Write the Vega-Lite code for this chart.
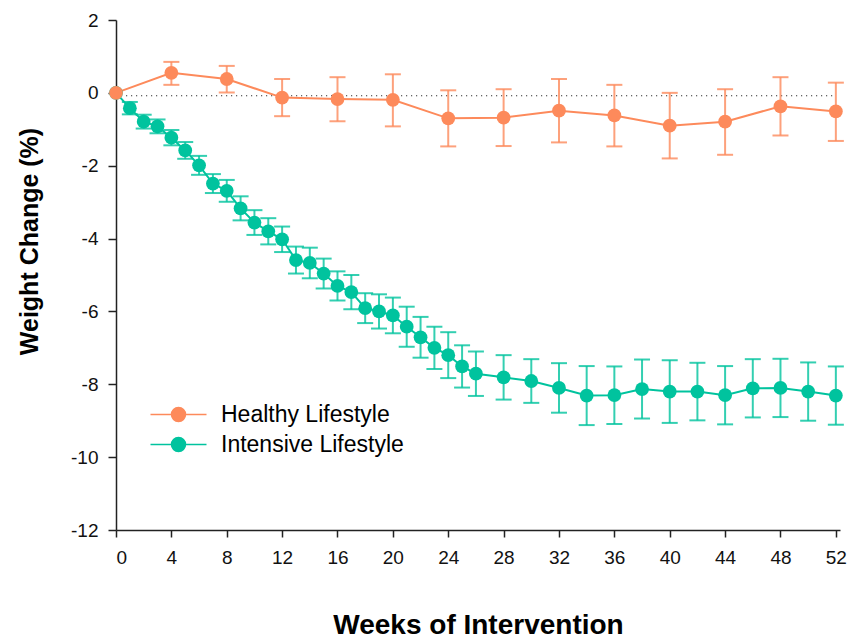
{
  "$schema": "https://vega.github.io/schema/vega-lite/v6.json",
  "width": 724,
  "height": 510,
  "autosize": "none",
  "padding": {"left": 116, "top": 20, "right": 8, "bottom": 108},
  "config": {
    "view": {"stroke": null},
    "font": "Liberation Sans",
    "axis": {
      "grid": false,
      "domainColor": "#222",
      "tickColor": "#222",
      "domainWidth": 1.5,
      "tickWidth": 1.5,
      "labelColor": "#111",
      "labelFont": "Liberation Sans",
      "labelFontSize": 19,
      "titleFont": "Liberation Sans",
      "titleFontWeight": "bold",
      "titleColor": "#000"
    }
  },
  "datasets": {
    "main": [
      {"series": "Intensive Lifestyle", "week": 0, "mean": 0, "lo": null, "hi": null},
      {"series": "Intensive Lifestyle", "week": 1, "mean": -0.42, "lo": -0.59, "hi": -0.25},
      {"series": "Intensive Lifestyle", "week": 2, "mean": -0.79, "lo": -0.98, "hi": -0.60},
      {"series": "Intensive Lifestyle", "week": 3, "mean": -0.92, "lo": -1.11, "hi": -0.73},
      {"series": "Intensive Lifestyle", "week": 4, "mean": -1.23, "lo": -1.44, "hi": -1.02},
      {"series": "Intensive Lifestyle", "week": 5, "mean": -1.58, "lo": -1.81, "hi": -1.35},
      {"series": "Intensive Lifestyle", "week": 6, "mean": -1.99, "lo": -2.25, "hi": -1.73},
      {"series": "Intensive Lifestyle", "week": 7, "mean": -2.49, "lo": -2.75, "hi": -2.23},
      {"series": "Intensive Lifestyle", "week": 8, "mean": -2.69, "lo": -2.99, "hi": -2.39},
      {"series": "Intensive Lifestyle", "week": 9, "mean": -3.17, "lo": -3.50, "hi": -2.84},
      {"series": "Intensive Lifestyle", "week": 10, "mean": -3.56, "lo": -3.90, "hi": -3.22},
      {"series": "Intensive Lifestyle", "week": 11, "mean": -3.80, "lo": -4.16, "hi": -3.44},
      {"series": "Intensive Lifestyle", "week": 12, "mean": -4.02, "lo": -4.37, "hi": -3.67},
      {"series": "Intensive Lifestyle", "week": 13, "mean": -4.59, "lo": -4.96, "hi": -4.22},
      {"series": "Intensive Lifestyle", "week": 14, "mean": -4.67, "lo": -5.09, "hi": -4.25},
      {"series": "Intensive Lifestyle", "week": 15, "mean": -4.96, "lo": -5.37, "hi": -4.55},
      {"series": "Intensive Lifestyle", "week": 16, "mean": -5.30, "lo": -5.70, "hi": -4.90},
      {"series": "Intensive Lifestyle", "week": 17, "mean": -5.47, "lo": -5.94, "hi": -5.00},
      {"series": "Intensive Lifestyle", "week": 18, "mean": -5.91, "lo": -6.32, "hi": -5.50},
      {"series": "Intensive Lifestyle", "week": 19, "mean": -6.00, "lo": -6.47, "hi": -5.53},
      {"series": "Intensive Lifestyle", "week": 20, "mean": -6.11, "lo": -6.60, "hi": -5.62},
      {"series": "Intensive Lifestyle", "week": 21, "mean": -6.42, "lo": -6.97, "hi": -5.87},
      {"series": "Intensive Lifestyle", "week": 22, "mean": -6.71, "lo": -7.27, "hi": -6.15},
      {"series": "Intensive Lifestyle", "week": 23, "mean": -7.00, "lo": -7.58, "hi": -6.42},
      {"series": "Intensive Lifestyle", "week": 24, "mean": -7.20, "lo": -7.83, "hi": -6.57},
      {"series": "Intensive Lifestyle", "week": 25, "mean": -7.51, "lo": -8.09, "hi": -6.93},
      {"series": "Intensive Lifestyle", "week": 26, "mean": -7.71, "lo": -8.32, "hi": -7.10},
      {"series": "Intensive Lifestyle", "week": 28, "mean": -7.81, "lo": -8.42, "hi": -7.20},
      {"series": "Intensive Lifestyle", "week": 30, "mean": -7.91, "lo": -8.51, "hi": -7.31},
      {"series": "Intensive Lifestyle", "week": 32, "mean": -8.10, "lo": -8.78, "hi": -7.42},
      {"series": "Intensive Lifestyle", "week": 34, "mean": -8.31, "lo": -9.12, "hi": -7.50},
      {"series": "Intensive Lifestyle", "week": 36, "mean": -8.30, "lo": -9.09, "hi": -7.51},
      {"series": "Intensive Lifestyle", "week": 38, "mean": -8.13, "lo": -8.94, "hi": -7.32},
      {"series": "Intensive Lifestyle", "week": 40, "mean": -8.20, "lo": -9.06, "hi": -7.34},
      {"series": "Intensive Lifestyle", "week": 42, "mean": -8.20, "lo": -8.99, "hi": -7.41},
      {"series": "Intensive Lifestyle", "week": 44, "mean": -8.30, "lo": -9.10, "hi": -7.50},
      {"series": "Intensive Lifestyle", "week": 46, "mean": -8.11, "lo": -8.91, "hi": -7.31},
      {"series": "Intensive Lifestyle", "week": 48, "mean": -8.10, "lo": -8.90, "hi": -7.30},
      {"series": "Intensive Lifestyle", "week": 50, "mean": -8.20, "lo": -9.00, "hi": -7.40},
      {"series": "Intensive Lifestyle", "week": 52, "mean": -8.31, "lo": -9.11, "hi": -7.51},
      {"series": "Healthy Lifestyle", "week": 0, "mean": 0, "lo": null, "hi": null},
      {"series": "Healthy Lifestyle", "week": 4, "mean": 0.55, "lo": 0.22, "hi": 0.85},
      {"series": "Healthy Lifestyle", "week": 8, "mean": 0.38, "lo": 0.01, "hi": 0.74},
      {"series": "Healthy Lifestyle", "week": 12, "mean": -0.13, "lo": -0.64, "hi": 0.38},
      {"series": "Healthy Lifestyle", "week": 16, "mean": -0.17, "lo": -0.78, "hi": 0.43},
      {"series": "Healthy Lifestyle", "week": 20, "mean": -0.19, "lo": -0.92, "hi": 0.51},
      {"series": "Healthy Lifestyle", "week": 24, "mean": -0.70, "lo": -1.47, "hi": 0.07},
      {"series": "Healthy Lifestyle", "week": 28, "mean": -0.68, "lo": -1.46, "hi": 0.10},
      {"series": "Healthy Lifestyle", "week": 32, "mean": -0.49, "lo": -1.36, "hi": 0.38},
      {"series": "Healthy Lifestyle", "week": 36, "mean": -0.62, "lo": -1.47, "hi": 0.22},
      {"series": "Healthy Lifestyle", "week": 40, "mean": -0.90, "lo": -1.80, "hi": 0.00},
      {"series": "Healthy Lifestyle", "week": 44, "mean": -0.79, "lo": -1.70, "hi": 0.10},
      {"series": "Healthy Lifestyle", "week": 48, "mean": -0.37, "lo": -1.17, "hi": 0.43},
      {"series": "Healthy Lifestyle", "week": 52, "mean": -0.51, "lo": -1.32, "hi": 0.28}
    ],
    "ref": [{"level": -0.08, "start": 0, "end": 52}]
  },
  "layer": [
    {
      "data": {"name": "ref"},
      "mark": {"type": "rule", "color": "#333", "strokeWidth": 1.2, "strokeDash": [1.2, 3.8]},
      "encoding": {
        "y": {"field": "level", "type": "quantitative", "scale": {"domain": [-12, 2], "nice": false}},
        "x": {"field": "start", "type": "quantitative", "scale": {"domain": [0, 52.3], "nice": false}},
        "x2": {"field": "end"}
      }
    },
    {
      "data": {"name": "main"},
      "transform": [{"filter": "isValid(datum.lo)"}],
      "layer": [
        {
          "mark": {"type": "rule", "strokeWidth": 2, "opacity": 0.8},
          "encoding": {
            "y": {"field": "lo", "type": "quantitative"},
            "y2": {"field": "hi"}
          }
        },
        {
          "mark": {"type": "tick", "orient": "horizontal", "size": 16, "thickness": 2, "opacity": 0.8},
          "encoding": {"y": {"field": "lo", "type": "quantitative"}}
        },
        {
          "mark": {"type": "tick", "orient": "horizontal", "size": 16, "thickness": 2, "opacity": 0.8},
          "encoding": {"y": {"field": "hi", "type": "quantitative"}}
        }
      ],
      "encoding": {
        "x": {"field": "week", "type": "quantitative"},
        "color": {"field": "series", "type": "nominal"}
      }
    },
    {
      "data": {"name": "main"},
      "layer": [
        {"mark": {"type": "line", "strokeWidth": 2}, "encoding": {}},
        {"mark": {"type": "point", "filled": true, "size": 190, "opacity": 1}, "encoding": {}}
      ],
      "encoding": {
        "x": {
          "field": "week", "type": "quantitative",
          "axis": {
            "values": [0, 4, 8, 12, 16, 20, 24, 28, 32, 36, 40, 44, 48, 52],
            "tickSize": 7, "labelPadding": 11, "labelFontSize": 19,
            "labelExpr": "datum.value < 0 ? '-' + abs(datum.value) : '' + datum.value",
            "title": "Weeks of Intervention", "titleFontSize": 28,
            "titleY": 103, "titleBaseline": "alphabetic"
          }
        },
        "y": {
          "field": "mean", "type": "quantitative",
          "axis": {
            "values": [-12, -10, -8, -6, -4, -2, 0, 2],
            "tickSize": 8, "labelPadding": 10, "labelFontSize": 19,
            "labelExpr": "datum.value < 0 ? '-' + abs(datum.value) : '' + datum.value",
            "title": "Weight Change (%)", "titleFontSize": 25,
            "titleX": -87, "titleY": 221, "titleAlign": "center", "titleBaseline": "middle", "titleAngle": 270
          }
        },
        "color": {
          "field": "series", "type": "nominal",
          "sort": ["Healthy Lifestyle", "Intensive Lifestyle"],
          "scale": {"domain": ["Healthy Lifestyle", "Intensive Lifestyle"], "range": ["#fd8a5b", "#00c39e"]},
          "legend": {
            "orient": "none", "legendX": 51, "legendY": 383, "title": null,
            "symbolType": "M-4,0H4M1,0A1,1,0,1,1,-1,0A1,1,0,1,1,1,0Z",
            "symbolSize": 196, "symbolStrokeWidth": 1.5,
            "labelFont": "Liberation Sans",
            "labelFontSize": 23, "labelLimit": 400, "labelColor": "#000", "labelOffset": 31, "rowPadding": 6,
            "encode": {"symbols": {"update": {"fill": {"scale": "color", "field": "value"}, "stroke": {"scale": "color", "field": "value"}, "opacity": {"value": 1}}}}
          }
        },
        "order": {"field": "week", "type": "quantitative"}
      }
    }
  ]
}
